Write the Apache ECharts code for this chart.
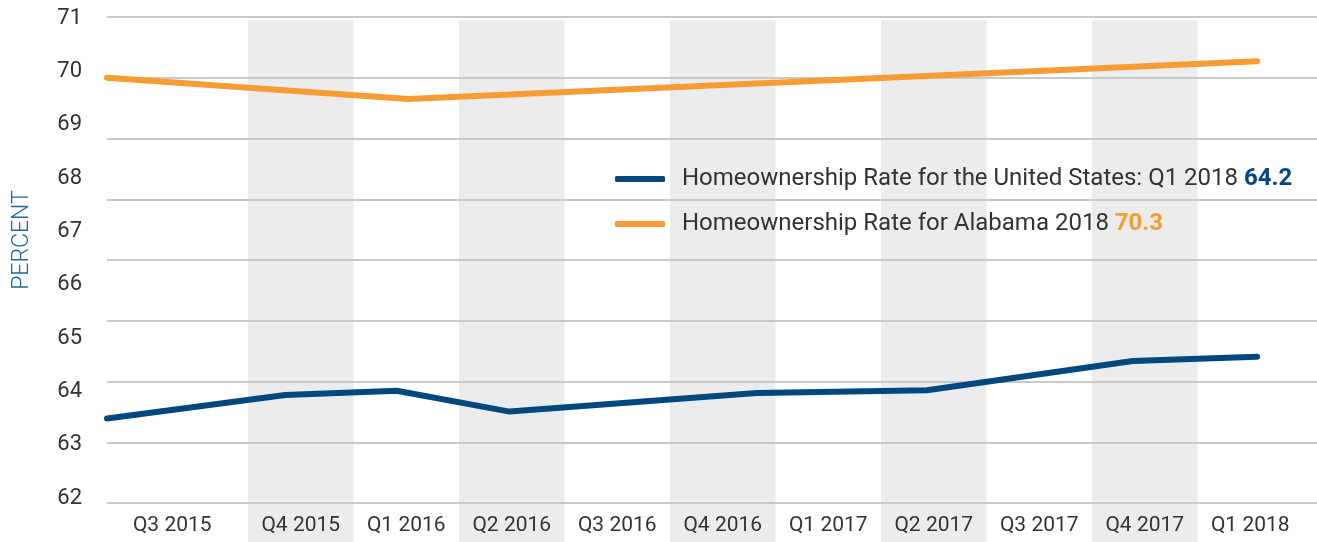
<!DOCTYPE html>
<html><head><meta charset="utf-8">
<script src="https://cdn.jsdelivr.net/npm/echarts@6/dist/echarts.min.js"></script>
<style>html,body{margin:0;padding:0;background:#fff}#c{width:1317px;height:542px}</style>
</head><body><div id="c"></div>
<script>
const categories = ['Q3 2015','Q4 2015','Q1 2016','Q2 2016','Q3 2016','Q4 2016','Q1 2017','Q2 2017','Q3 2017','Q4 2017','Q1 2018'];
const yMin = 62, yMax = 71, yStep = 1;
const usName = 'Homeownership Rate for the United States: Q1 2018';
const alName = 'Homeownership Rate for Alabama 2018';
const usLatest = '64.2';
const alLatest = '70.3';
// line vertices: position in quarters elapsed since Q3 2015, and rate (percent)
const usPos  = [0, 1.55, 2.52, 3.50, 5.65, 7.13, 8.92, 10];
const usRate = [63.49, 63.93, 64.01, 63.62, 63.97, 64.02, 64.57, 64.65];
const alPos  = [0, 2.62, 10];
const alRate = [69.88, 69.48, 70.19];

const BLUE = '#03477F', ORANGE = '#F99B33', TXT = '#333333', FONT = 'Roboto';
const pairs = (xs, ys) => xs.map((x, i) => [x, ys[i]]);

const chart = echarts.init(document.getElementById('c'), null, {renderer: 'canvas'});
chart.setOption({
  animation: false,
  backgroundColor: '#ffffff',
  textStyle: {fontFamily: FONT},
  grid: [
    {left: 142.5, width: 1160.5, top: 20, height: 522},   // bands
    {left: 107, right: 0, top: 17, height: 486},          // grid lines
    {left: 107, width: 1150, top: 18, height: 480},       // lines + y labels
    {left: 142.5, width: 1160.5, top: 17, height: 486}    // x labels
  ],
  xAxis: [
    {gridIndex: 0, type: 'category', data: categories, z: 0,
     axisLine: {show: false}, axisTick: {show: false}, axisLabel: {show: false},
     splitLine: {show: false},
     splitArea: {show: true, areaStyle: {color: ['rgba(0,0,0,0)', '#ECECEC']}}},
    {gridIndex: 1, type: 'value', show: false, min: 0, max: 1},
    {gridIndex: 2, type: 'value', show: false, min: 0, max: categories.length - 1},
    {gridIndex: 3, type: 'category',
     data: categories.map((c, i) => i === 0 ? {value: c, textStyle: {padding: [0, 46, 0, 0]}} : c),
     axisLine: {show: false}, axisTick: {show: false}, splitLine: {show: false},
     axisLabel: {color: TXT, fontSize: 21, fontFamily: FONT, margin: 12, interval: 0}}
  ],
  yAxis: [
    {gridIndex: 0, type: 'value', show: false, min: 0, max: 1},
    {gridIndex: 1, type: 'value', min: 0, max: 8, interval: 1, z: 1,
     axisLine: {show: false}, axisTick: {show: false}, axisLabel: {show: false},
     splitLine: {show: true, lineStyle: {color: '#C9C9C9', width: 2}}},
    {gridIndex: 2, type: 'value', min: yMin, max: yMax, interval: yStep,
     axisLine: {show: false}, axisTick: {show: false}, splitLine: {show: false},
     axisLabel: {color: TXT, fontSize: 22, fontFamily: FONT, margin: 25},
     name: 'PERCENT', nameLocation: 'middle', nameRotate: 90, nameGap: 73,
     nameTextStyle: {color: '#1F6A9A', fontSize: 23, fontFamily: FONT, fontWeight: 300, padding: [0, 0, 0, 36]}},
    {gridIndex: 3, type: 'value', show: false, min: 0, max: 1}
  ],
  legend: {
    orient: 'vertical', left: 615, top: 165, padding: 0,
    itemWidth: 50, itemHeight: 6, itemGap: 17, icon: 'roundRect',
    data: [usName, alName],
    formatter: n => n === usName ? n + ' {us|' + usLatest + '}' : n + ' {al|' + alLatest + '}',
    textStyle: {
      color: TXT, fontSize: 24, lineHeight: 28, fontFamily: FONT, padding: [0, 0, 0, 12],
      rich: {
        us: {color: BLUE, fontWeight: 'bold', fontSize: 24, fontFamily: FONT},
        al: {color: ORANGE, fontWeight: 'bold', fontSize: 24, fontFamily: FONT}
      }
    }
  },
  series: [
    {name: alName, type: 'line', xAxisIndex: 2, yAxisIndex: 2, data: pairs(alPos, alRate),
     showSymbol: false, symbol: 'none', color: ORANGE, z: 3,
     lineStyle: {width: 6, color: ORANGE, cap: 'round', join: 'round'}},
    {name: usName, type: 'line', xAxisIndex: 2, yAxisIndex: 2, data: pairs(usPos, usRate),
     showSymbol: false, symbol: 'none', color: BLUE, z: 3,
     lineStyle: {width: 6, color: BLUE, cap: 'round', join: 'round'}}
  ]
});
</script></body></html>
